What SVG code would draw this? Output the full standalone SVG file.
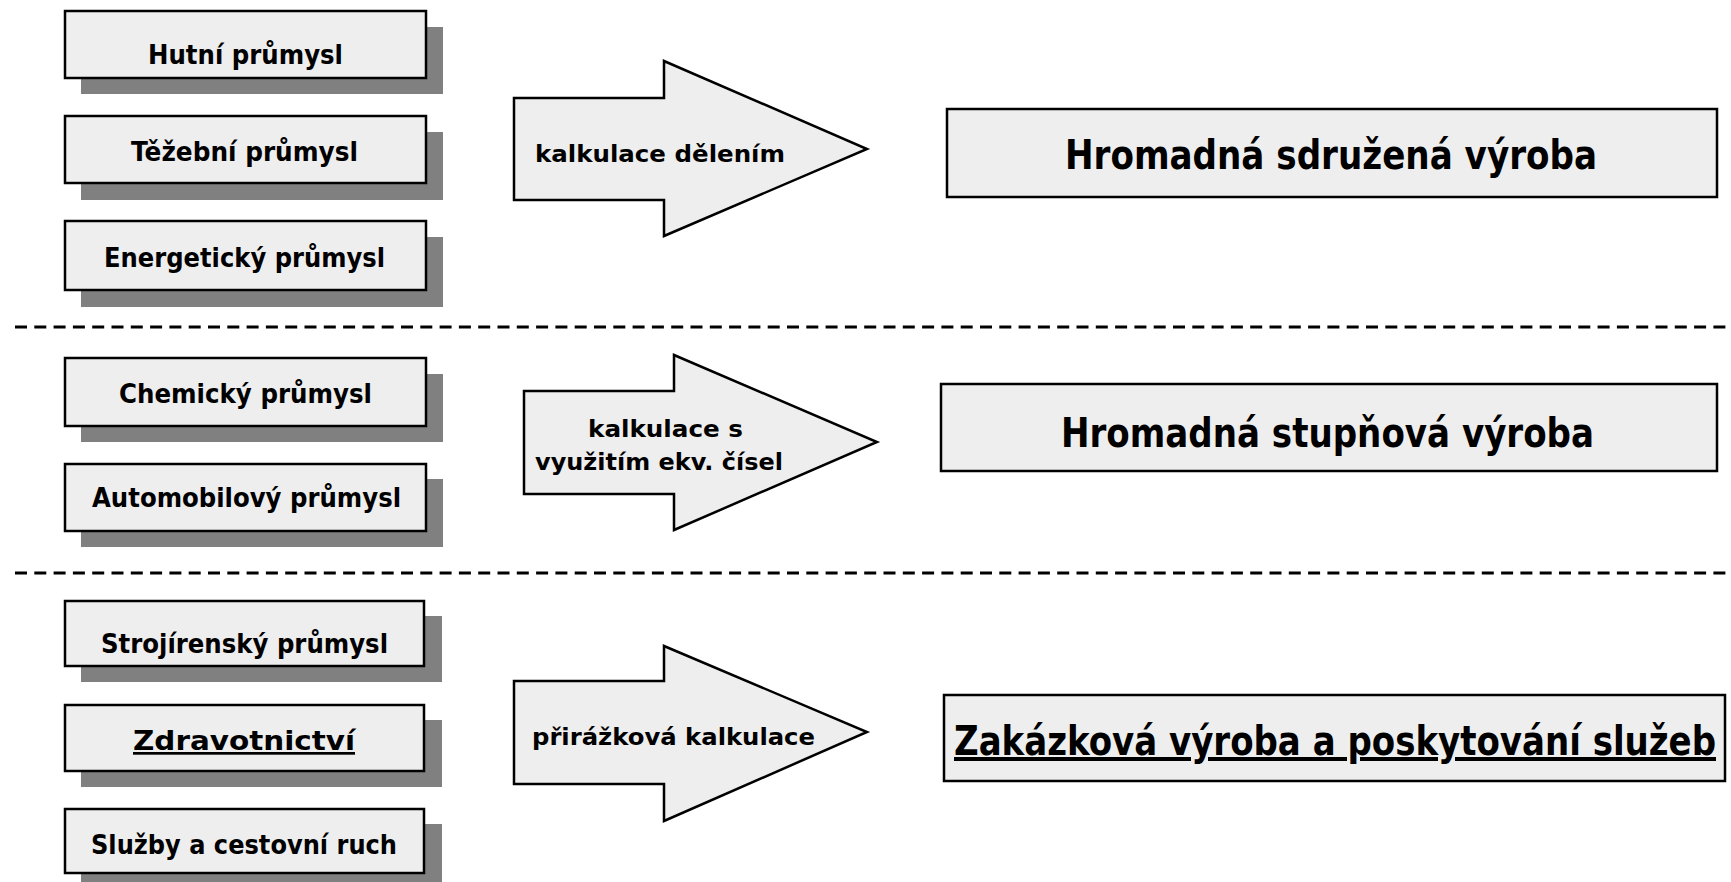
<svg xmlns="http://www.w3.org/2000/svg" width="1731" height="882" viewBox="0 0 1731 882">
  <style>
    .box { fill: #eeeeee; stroke: #000000; stroke-width: 2.5; }
    .shadow { fill: #808080; }
    .sep { stroke: #000000; stroke-width: 3; stroke-dasharray: 12 7.3; fill: none; }
    text { font-family: "DejaVu Sans", "Liberation Sans", sans-serif; font-weight: bold; fill: #000000; text-anchor: middle; }
    .small { font-size: 27px; }
    .arrowtxt { font-size: 23px; }
    .big { font-size: 40px; }
    .ul { text-decoration: underline; }
  </style>

  <!-- section separators -->
  <g id="separators">
    <line class="sep" x1="15" y1="327" x2="1731" y2="327"/>
    <line class="sep" x1="15" y1="573" x2="1731" y2="573"/>
  </g>

  <!-- industry boxes -->
  <g id="hutni">
    <rect class="shadow" x="81" y="27" width="362" height="67"/>
    <rect class="box" x="65" y="11" width="361" height="67"/>
    <text class="small" x="245.5" y="64" textLength="195" lengthAdjust="spacingAndGlyphs">Hutní průmysl</text>
  </g>
  <g id="tezebni">
    <rect class="shadow" x="81" y="132" width="362" height="68"/>
    <rect class="box" x="65" y="116" width="361" height="67"/>
    <text class="small" x="244.5" y="161" textLength="227" lengthAdjust="spacingAndGlyphs">Těžební průmysl</text>
  </g>
  <g id="energeticky">
    <rect class="shadow" x="81" y="237" width="362" height="70"/>
    <rect class="box" x="65" y="221" width="361" height="69"/>
    <text class="small" x="244.5" y="267" textLength="281" lengthAdjust="spacingAndGlyphs">Energetický průmysl</text>
  </g>
  <g id="chemicky">
    <rect class="shadow" x="81" y="374" width="362" height="68"/>
    <rect class="box" x="65" y="358" width="361" height="68"/>
    <text class="small" x="245.5" y="403" textLength="253" lengthAdjust="spacingAndGlyphs">Chemický průmysl</text>
  </g>
  <g id="automobilovy">
    <rect class="shadow" x="81" y="479" width="362" height="68"/>
    <rect class="box" x="65" y="464" width="361" height="67"/>
    <text class="small" x="246.5" y="507" textLength="309" lengthAdjust="spacingAndGlyphs">Automobilový průmysl</text>
  </g>
  <g id="strojirensky">
    <rect class="shadow" x="81" y="616" width="361" height="66"/>
    <rect class="box" x="65" y="601" width="359" height="65"/>
    <text class="small" x="244.5" y="653" textLength="287" lengthAdjust="spacingAndGlyphs">Strojírenský průmysl</text>
  </g>
  <g id="zdravotnictvi">
    <rect class="shadow" x="81" y="720" width="361" height="67"/>
    <rect class="box" x="65" y="705" width="359" height="66"/>
    <text class="small ul" x="244" y="750" textLength="222" lengthAdjust="spacingAndGlyphs">Zdravotnictví</text>
  </g>
  <g id="sluzby">
    <rect class="shadow" x="81" y="824" width="361" height="66"/>
    <rect class="box" x="65" y="809" width="359" height="64"/>
    <text class="small" x="244" y="854" textLength="306" lengthAdjust="spacingAndGlyphs">Služby a cestovní ruch</text>
  </g>

  <!-- block arrows linking industries to production types -->
  <g id="connectors">
    <g id="arrow-deleni">
      <polygon class="box" points="514,98 664,98 664,61 867,149 664,236 664,200 514,200"/>
      <text class="arrowtxt" x="660" y="162" textLength="250" lengthAdjust="spacingAndGlyphs">kalkulace dělením</text>
    </g>
    <g id="arrow-ekv">
      <polygon class="box" points="524,391 674,391 674,355 877,442 674,530 674,494 524,494"/>
      <text class="arrowtxt" x="665.5" y="437" textLength="155" lengthAdjust="spacingAndGlyphs">kalkulace s</text>
      <text class="arrowtxt" x="659" y="470" textLength="248" lengthAdjust="spacingAndGlyphs">využitím ekv. čísel</text>
    </g>
    <g id="arrow-prirazka">
      <polygon class="box" points="514,681 664,681 664,646 867,732 664,821 664,784 514,784"/>
      <text class="arrowtxt" x="673.5" y="745" textLength="283" lengthAdjust="spacingAndGlyphs">přirážková kalkulace</text>
    </g>
  </g>

  <!-- production type boxes -->
  <g id="sdruzena">
    <rect class="box" x="947" y="109" width="770" height="88"/>
    <text class="big" x="1331" y="169" textLength="532" lengthAdjust="spacingAndGlyphs">Hromadná sdružená výroba</text>
  </g>
  <g id="stupnova">
    <rect class="box" x="941" y="384" width="776" height="87"/>
    <text class="big" x="1327.5" y="447" textLength="533" lengthAdjust="spacingAndGlyphs">Hromadná stupňová výroba</text>
  </g>
  <g id="zakazkova">
    <rect class="box" x="944" y="695" width="781" height="86"/>
    <text class="big ul" x="1335" y="755" textLength="762" lengthAdjust="spacingAndGlyphs">Zakázková výroba a poskytování služeb</text>
  </g>
</svg>
